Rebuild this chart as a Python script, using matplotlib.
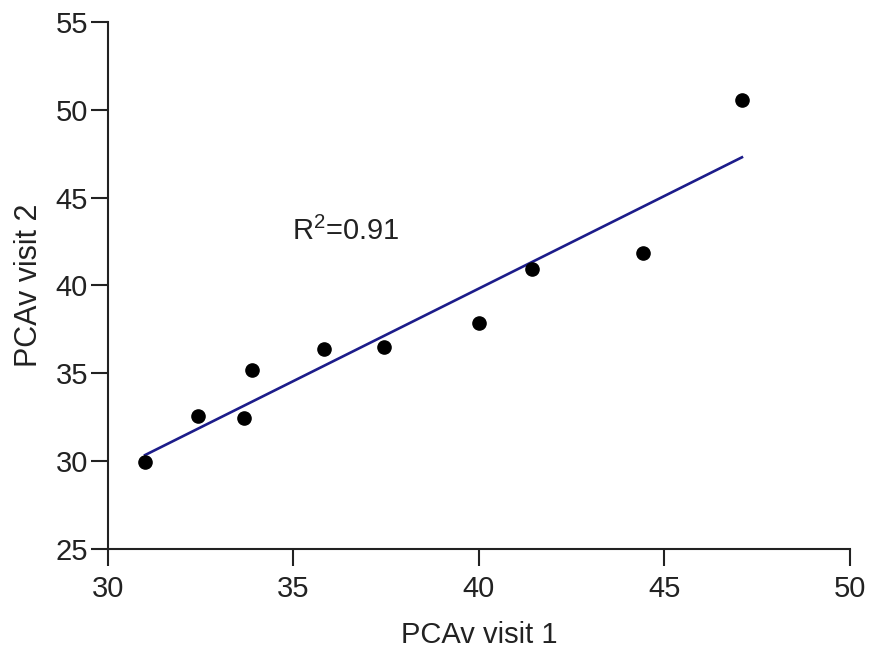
import numpy as np
import matplotlib
matplotlib.use("Agg")
from matplotlib import pyplot as plt

# PCAv values
visit1 = [31.0, 32.43, 33.67, 33.88, 35.82, 37.44, 40.0, 41.43, 44.42, 47.09]
visit2 = [29.95, 32.57, 32.46, 35.19, 36.38, 36.5, 37.86, 40.94, 41.85, 50.55]
x_ticks = [30, 35, 40, 45, 50]
y_ticks = [25, 30, 35, 40, 45, 50, 55]
r2_label = "R$^2$=0.91"

plt.rcParams['font.family'] = ['Liberation Sans', 'DejaVu Sans']
plt.rcParams['mathtext.fontset'] = 'custom'
plt.rcParams['mathtext.rm'] = 'Liberation Sans'
text_color = '#222222'

fig = plt.figure(figsize=(8.69, 6.51), dpi=100)
ax = fig.add_axes([0.1243, 0.1567, 0.8537, 0.8095])

# least squares fit over the range of the data
slope, intercept = np.polyfit(visit1, visit2, 1)
fit_x = np.array([min(visit1), max(visit1)])
ax.plot(fit_x, slope * fit_x + intercept, color='#1c1c8a', lw=1.9, zorder=2)
ax.plot(visit1, visit2, 'o', color='black', markersize=9.5, zorder=3,
        clip_on=False)

ax.text(34.95, 42.6, r2_label, fontsize=21, color=text_color,
        ha='left', va='baseline')

ax.set_xlim(30, 50)
ax.set_ylim(25, 55)
ax.set_xticks(x_ticks)
ax.set_yticks(y_ticks)
ax.tick_params(direction='out', length=12.5, width=1.5, labelsize=21,
               labelcolor=text_color, color='#222222', pad=2)
ax.tick_params(axis='x', pad=6)
for side in ['top', 'right']:
    ax.spines[side].set_visible(False)
for side in ['left', 'bottom']:
    ax.spines[side].set_linewidth(1.5)
    ax.spines[side].set_color('#222222')

ax.set_xlabel('PCAv visit 1', fontsize=21, color=text_color, labelpad=13)
ax.set_ylabel('PCAv visit 2', fontsize=22, color=text_color, labelpad=8)

fig.savefig('out.png', dpi=100)
